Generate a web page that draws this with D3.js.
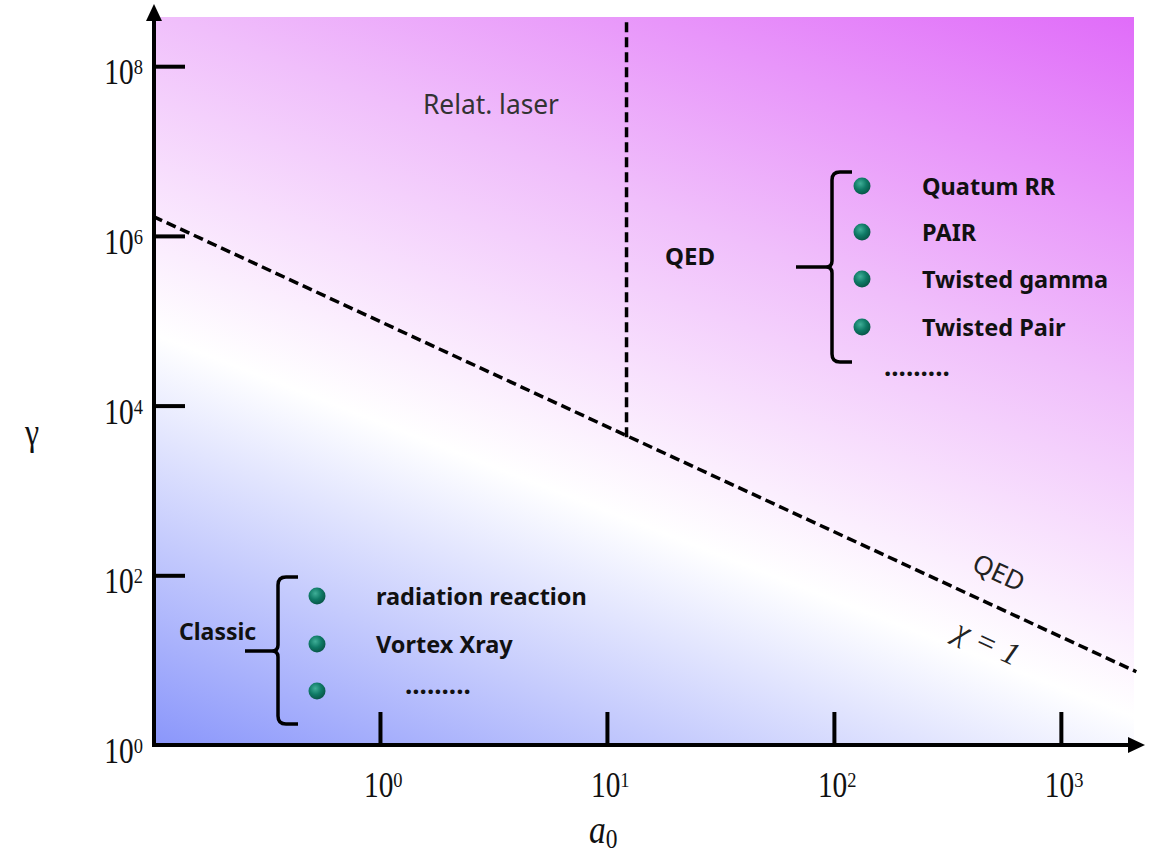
<!DOCTYPE html>
<html>
<head>
<meta charset="utf-8">
<script src="https://cdn.jsdelivr.net/npm/d3@7"></script>
<style>
  html, body { margin: 0; padding: 0; background: #ffffff; }
  svg { display: block; }
</style>
</head>
<body>
<svg id="chart" width="1159" height="854"></svg>
<script>
// Axis ticks (values and the exponents printed beside them)
const xTickValues = [1, 10, 100, 1000];
const xTickExponents = ["0", "1", "2", "3"];
const yTickValues = [1, 1e2, 1e4, 1e6, 1e8];
const yTickExponents = ["0", "2", "4", "6", "8"];

// chi = 1 boundary (a0, gamma) end points
const chiA0 = [0.1, 2150];
const chiGamma = [1.7e6, 7.3];

// Relativistic-laser / QED separation at fixed a0
const laserA0 = [12.2, 12.2];
const laserGamma = [3.3e8, 4.2e3];

// Region annotations
const qedItems = ["Quatum RR", "PAIR", "Twisted gamma", "Twisted Pair"];
const classicItems = ["radiation reaction", "Vortex Xray", "........."];

const svg = d3.select("#chart");

const x = d3.scaleLog().domain([0.1, 2100]).range([153, 1134]);
const y = d3.scaleLog().domain([1, 3.8e8]).range([745, 17]);

const SX = 0.84; // horizontal compression of the serif labels

const defs = svg.append("defs");

// Background: blue (bottom-left) -> white band -> magenta (top-right)
const x0 = x.range()[0], x1 = x.range()[1], yb = y.range()[0], yt = y.range()[1];
const dir = (() => { const vx = 0.39, vy = -1, n = Math.hypot(vx, vy); return [vx / n, vy / n]; })();
const proj = (px, py) => px * dir[0] + py * dir[1];
const corners = [[x0, yb], [x1, yt], [x0, yt], [x1, yb]];
const ps = corners.map(c => proj(c[0], c[1]));
const pmin = d3.min(ps), pmax = d3.max(ps);
const cx = (x0 + x1) / 2, cy = (yb + yt) / 2, pc = proj(cx, cy);
const grad = defs.append("linearGradient")
  .attr("id", "bg")
  .attr("gradientUnits", "userSpaceOnUse")
  .attr("x1", cx + dir[0] * (pmin - pc)).attr("y1", cy + dir[1] * (pmin - pc))
  .attr("x2", cx + dir[0] * (pmax - pc)).attr("y2", cy + dir[1] * (pmax - pc));
[[0, "#8a96fb"], [0.37, "#ffffff"], [0.66, "#f0bffb"], [1, "#e06cf9"]]
  .forEach(([o, c]) => grad.append("stop").attr("offset", o).attr("stop-color", c));

// Shaded bullet
const dotGrad = defs.append("radialGradient")
  .attr("id", "dot").attr("cx", "40%").attr("cy", "35%").attr("r", "65%");
[[0, "#3fae97"], [0.55, "#0f7a66"], [1, "#085748"]]
  .forEach(([o, c]) => dotGrad.append("stop").attr("offset", o).attr("stop-color", c));

svg.append("rect")
  .attr("x", x0).attr("y", yt)
  .attr("width", x1 - x0).attr("height", yb - yt)
  .attr("fill", "url(#bg)");

// Boundary lines
const line = d3.line().x(d => x(d[0])).y(d => y(d[1]));
svg.append("path")
  .datum(d3.zip(chiA0, chiGamma))
  .attr("d", line)
  .attr("fill", "none").attr("stroke", "#000")
  .attr("stroke-width", 3.5).attr("stroke-dasharray", "10,5");
svg.append("path")
  .datum(d3.zip(laserA0, laserGamma))
  .attr("d", line)
  .attr("fill", "none").attr("stroke", "#000")
  .attr("stroke-width", 3.5).attr("stroke-dasharray", "10,5");

// Axes: tick marks point inward
const yAxis = d3.axisLeft(y)
  .tickValues(yTickValues.slice(1))
  .tickSizeInner(-31).tickSizeOuter(0).tickFormat("");
const gy = svg.append("g").attr("transform", `translate(${x0 + 1},0)`).call(yAxis);
gy.select(".domain").remove();
gy.selectAll(".tick line").attr("stroke", "#000").attr("stroke-width", 4);

const xAxis = d3.axisBottom(x)
  .tickValues(xTickValues)
  .tickSizeInner(-33).tickSizeOuter(0).tickFormat("");
const gx = svg.append("g").attr("transform", `translate(0,${yb})`).call(xAxis);
gx.select(".domain").remove();
gx.selectAll(".tick line").attr("stroke", "#000").attr("stroke-width", 4);

// Axis lines with arrow heads
svg.append("line").attr("x1", x0 + 1).attr("x2", x0 + 1).attr("y1", yb + 2).attr("y2", 20)
  .attr("stroke", "#000").attr("stroke-width", 4);
svg.append("path").attr("d", `M${x0 + 1},4 L${x0 + 9},21 L${x0 - 7},21 Z`).attr("fill", "#000");
svg.append("line").attr("x1", x0 - 1).attr("x2", 1130).attr("y1", yb).attr("y2", yb)
  .attr("stroke", "#000").attr("stroke-width", 4);
svg.append("path").attr("d", `M1145,${yb} L1128,${yb - 8} L1128,${yb + 8} Z`).attr("fill", "#000");

// Power-of-ten tick labels
function powerLabel(g, exp, anchor) {
  const t = g.append("text")
    .attr("font-family", "'Liberation Serif', 'Times New Roman', serif")
    .attr("font-size", 35).attr("fill", "#111")
    .attr("text-anchor", anchor);
  t.append("tspan").text("10");
  t.append("tspan").attr("font-size", 22).attr("dy", -10).text(exp);
  return t;
}
yTickValues.forEach((v, i) => {
  const g = svg.append("g").attr("transform", `translate(143,${y(v) + 18}) scale(${SX},1)`);
  powerLabel(g, yTickExponents[i], "end");
});
xTickValues.forEach((v, i) => {
  const g = svg.append("g").attr("transform", `translate(${x(v) - 16},797) scale(${SX},1)`);
  powerLabel(g, xTickExponents[i], "start");
});

// Axis titles
svg.append("text")
  .attr("transform", `translate(32,445) scale(${SX},1)`)
  .attr("text-anchor", "middle")
  .attr("font-family", "'Liberation Serif', serif").attr("font-size", 38).attr("fill", "#111")
  .text("γ");
const a0 = svg.append("text")
  .attr("transform", `translate(589,843) scale(${SX},1)`)
  .attr("font-family", "'Liberation Serif', serif").attr("fill", "#111");
a0.append("tspan").attr("font-size", 40).attr("font-style", "italic").text("a");
a0.append("tspan").attr("font-size", 28).attr("dy", 5).text("0");

// Region labels
const sans = "'Noto Sans', 'Open Sans', sans-serif";
svg.append("text")
  .attr("transform", `translate(423,114) scale(0.94,1)`)
  .attr("font-family", sans).attr("font-size", 28).attr("fill", "#333")
  .text("Relat. laser");
svg.append("text")
  .attr("x", 665).attr("y", 265)
  .attr("font-family", sans).attr("font-weight", "bold").attr("font-size", 24).attr("fill", "#111")
  .text("QED");

// Labels along the chi = 1 line
const ang = Math.atan2(y(chiGamma[1]) - y(chiGamma[0]), x(chiA0[1]) - x(chiA0[0])) * 180 / Math.PI;
svg.append("text")
  .attr("transform", `translate(995,581) rotate(${ang})`)
  .attr("text-anchor", "middle")
  .attr("font-family", sans).attr("font-size", 26).attr("fill", "#222")
  .text("QED");
svg.append("text")
  .attr("transform", `translate(983,652) rotate(${ang})`)
  .attr("text-anchor", "middle")
  .attr("font-family", "'Liberation Serif', serif").attr("font-style", "italic")
  .attr("font-size", 32).attr("fill", "#222")
  .text("χ = 1");

// Curly brace: vertical bar with hooks and a cusp pointing left
function brace(bx, top, bottom, mid, left) {
  const r = 8;
  const d = `M${bx + 20},${top} L${bx + r},${top} Q${bx},${top} ${bx},${top + r}` +
    ` L${bx},${mid - 6} Q${bx},${mid} ${bx - 6},${mid} L${left},${mid}` +
    ` M${bx - 6},${mid} Q${bx},${mid} ${bx},${mid + 6} L${bx},${bottom - r}` +
    ` Q${bx},${bottom} ${bx + r},${bottom} L${bx + 20},${bottom}`;
  svg.append("path").attr("d", d).attr("fill", "none")
    .attr("stroke", "#000").attr("stroke-width", 3.5);
}

function itemList(items, dotX, textX, ys) {
  items.forEach((t, i) => {
    svg.append("circle").attr("cx", dotX).attr("cy", ys[i]).attr("r", 8.5)
      .attr("fill", "url(#dot)");
    svg.append("text")
      .attr("x", textX).attr("y", ys[i] + 9)
      .attr("font-family", sans).attr("font-weight", "bold")
      .attr("font-size", 23.5).attr("fill", "#111")
      .text(t);
  });
}

// QED group
brace(832, 172, 362, 267, 796);
itemList(qedItems, 862, 922, [186, 232, 279, 327]);
svg.append("text")
  .attr("x", 884).attr("y", 376)
  .attr("font-family", sans).attr("font-weight", "bold").attr("font-size", 26).attr("fill", "#111")
  .text(".........");

// Classic group
svg.append("text")
  .attr("x", 179).attr("y", 640)
  .attr("font-family", sans).attr("font-weight", "bold").attr("font-size", 23).attr("fill", "#111")
  .text("Classic");
brace(278, 577, 724, 651, 245);
itemList(classicItems.slice(0, 2), 317, 376, [596, 644]);
svg.append("circle").attr("cx", 317).attr("cy", 691).attr("r", 8.5).attr("fill", "url(#dot)");
svg.append("text")
  .attr("x", 405).attr("y", 694)
  .attr("font-family", sans).attr("font-weight", "bold").attr("font-size", 26).attr("fill", "#111")
  .text(classicItems[2]);
</script>
</body>
</html>
